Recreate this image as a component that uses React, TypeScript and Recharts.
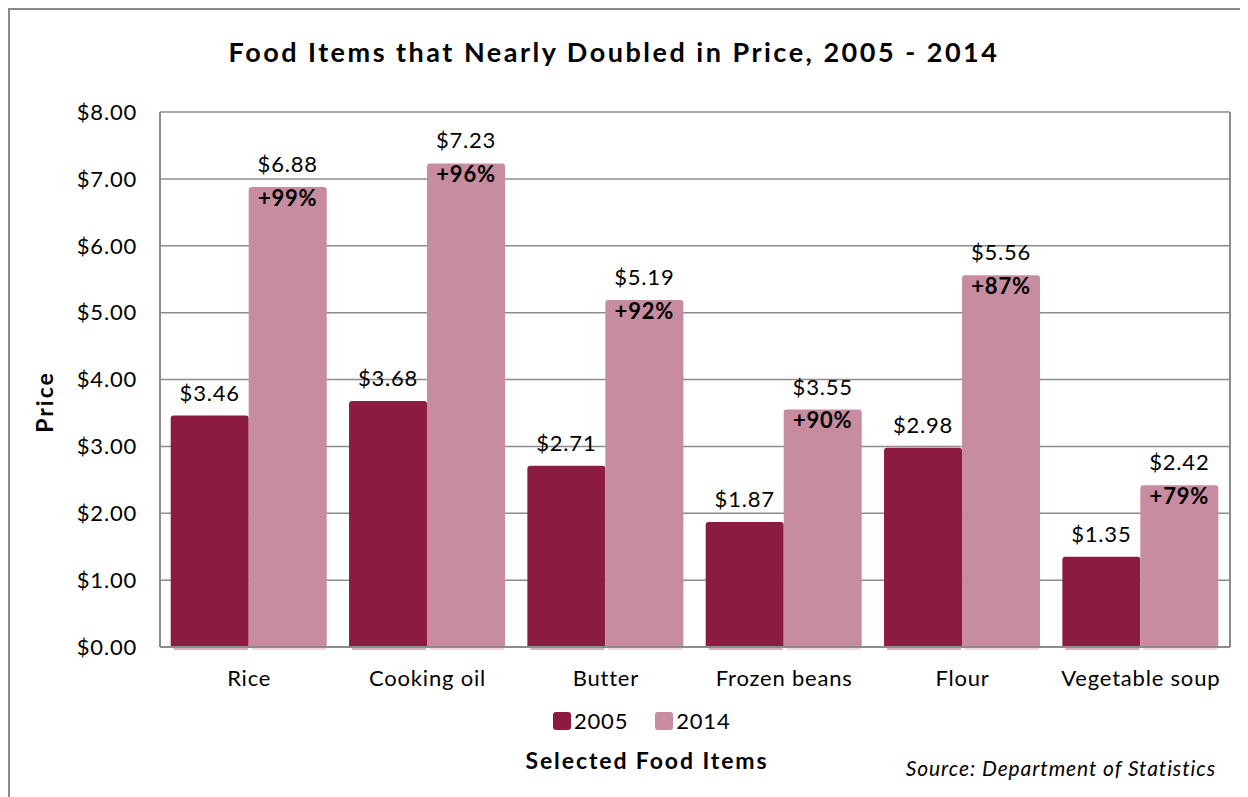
import React from "react";
import { BarChart, Bar, XAxis, YAxis, CartesianGrid, LabelList } from "recharts";

const foods = ["Rice", "Cooking oil", "Butter", "Frozen beans", "Flour", "Vegetable soup"];
const price2005 = [3.46, 3.68, 2.71, 1.87, 2.98, 1.35];
const price2014 = [6.88, 7.23, 5.19, 3.55, 5.56, 2.42];
const pctChange = [99, 96, 92, 90, 87, 79];
const yTicks = [0, 1, 2, 3, 4, 5, 6, 7, 8];

const DARK = "#8b1c40";
const LIGHT = "#c78c9f";
const FONT = "Lato, 'Open Sans', sans-serif";

const data = foods.map((name, i) => ({
  name,
  y2005: price2005[i],
  y2014: price2014[i],
  pct: pctChange[i],
}));

const money = (v: number) => `$${Number(v).toFixed(2)}`;

// bar with slightly rounded top and a soft drop shadow
function ShadowBar(props: any) {
  const { x, y, width, height, fill } = props;
  if (!height || height <= 0) return null;
  const r = 3;
  const path = `M${x},${y + height} L${x},${y + r} Q${x},${y} ${x + r},${y} L${x + width - r},${y} Q${x + width},${y} ${x + width},${y + r} L${x + width},${y + height} Z`;
  return (
    <g>
      <rect x={x + 3} y={y + 3} width={width - 4} height={height} fill={fill} opacity={0.35} />
      <path d={path} fill={fill} />
    </g>
  );
}

const textStyle = { fill: "#000", fontSize: 22, fontFamily: FONT, letterSpacing: 0.8 };

export default function App() {
  return (
    <div
      style={{
        position: "relative",
        width: 1240,
        height: 789,
        borderLeft: "2px solid #8a8a8a",
        borderTop: "2px solid #8a8a8a",
        boxSizing: "border-box",
        fontFamily: FONT,
        color: "#000",
      }}
    >
      <div
        style={{
          position: "absolute",
          left: 0,
          width: 1208,
          top: 25,
          textAlign: "center",
          fontWeight: 700,
          fontSize: 27,
          letterSpacing: 2.5,
          whiteSpace: "nowrap",
        }}
      >
        Food Items that Nearly Doubled in Price, 2005 - 2014
      </div>

      <BarChart
        width={1238}
        height={787}
        data={data}
        margin={{ top: 102, right: 17, bottom: 112, left: 0 }}
        barCategoryGap="6%"
        barGap={0}
      >
        <CartesianGrid vertical={false} stroke="#8c8c8c" strokeWidth={1.5} />
        <XAxis
          dataKey="name"
          tickLine={false}
          axisLine={{ stroke: "#8c8c8c", strokeWidth: 2 }}
          tickMargin={17}
          height={38}
          tick={textStyle}
          interval={0}
        />
        <YAxis
          domain={[0, 8]}
          ticks={yTicks}
          tickFormatter={money}
          tickLine={false}
          axisLine={{ stroke: "#8c8c8c", strokeWidth: 2 }}
          tickMargin={17}
          width={150}
          tick={textStyle}
        />
        <YAxis
          yAxisId="right"
          orientation="right"
          domain={[0, 8]}
          tick={false}
          tickLine={false}
          axisLine={{ stroke: "#8c8c8c", strokeWidth: 2 }}
          width={1}
        />
        <Bar dataKey="y2005" name="2005" fill={DARK} shape={<ShadowBar />} isAnimationActive={false}>
          <LabelList
            dataKey="y2005"
            position="top"
            offset={15}
            formatter={(v: any) => money(v)}
            style={textStyle}
          />
        </Bar>
        <Bar dataKey="y2014" name="2014" fill={LIGHT} shape={<ShadowBar />} isAnimationActive={false}>
          <LabelList
            dataKey="y2014"
            position="top"
            offset={15}
            formatter={(v: any) => money(v)}
            style={textStyle}
          />
          <LabelList
            dataKey="pct"
            position="insideTop"
            offset={3}
            formatter={(v: any) => `+${v}%`}
            style={{ ...textStyle, fontWeight: 700 }}
          />
        </Bar>
      </BarChart>

      <div
        style={{
          position: "absolute",
          left: 34,
          top: 392,
          transform: "translate(-50%, -50%) rotate(-90deg)",
          fontWeight: 700,
          fontSize: 23,
          letterSpacing: 2,
          whiteSpace: "nowrap",
        }}
      >
        Price
      </div>

      <div
        style={{
          position: "absolute",
          top: 697,
          left: 543,
          display: "flex",
          alignItems: "center",
          fontSize: 22,
          letterSpacing: 0.8,
        }}
      >
        <span style={{ width: 18, height: 18, background: DARK, borderRadius: 3, marginRight: 3 }} />
        <span style={{ marginRight: 27 }}>2005</span>
        <span style={{ width: 18, height: 18, background: LIGHT, borderRadius: 3, marginRight: 3 }} />
        <span>2014</span>
      </div>

      <div
        style={{
          position: "absolute",
          left: 437,
          width: 400,
          top: 736,
          textAlign: "center",
          fontWeight: 700,
          fontSize: 23,
          letterSpacing: 1.9,
          whiteSpace: "nowrap",
        }}
      >
        Selected Food Items
      </div>

      <div
        style={{
          position: "absolute",
          right: 32,
          top: 745,
          fontStyle: "italic",
          fontSize: 21,
          letterSpacing: 0.9,
          whiteSpace: "nowrap",
        }}
      >
        Source: Department of Statistics
      </div>
    </div>
  );
}
